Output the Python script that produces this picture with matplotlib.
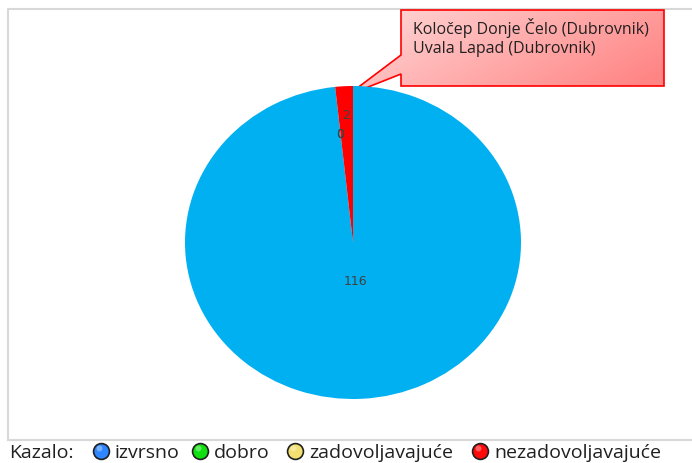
import numpy as np
import matplotlib
matplotlib.use("Agg")
import matplotlib.pyplot as plt
from matplotlib.patches import Polygon

# 数据
categories = ["izvrsno", "dobro", "zadovoljavajuće", "nezadovoljavajuće"]
counts = [116, 0, 0, 2]
slice_colors = ["#00b0f0", "#00e000", "#ffe060", "#ff0000"]
legend_colors = ["#2f86ff", "#10e010", "#f2e070", "#ff0a0a"]
callout_lines = ["Koločep Donje Čelo (Dubrovnik)", "Uvala Lapad (Dubrovnik)"]
legend_title = "Kazalo:"

W, H = 692, 464
fig = plt.figure(figsize=(W / 100, H / 100), dpi=100)

# 底层：像素坐标的覆盖层
bg = fig.add_axes([0, 0, 1, 1])
bg.axis("off")

# 图框
bg.plot([8, 8, 692], [441, 10, 10], color="#d8d8d8", lw=1.5)
bg.plot([8, 692], [441, 441], color="#d8d8d8", lw=1.5)

# 饼图（略椭圆）
px0, px1, py0, py1 = 185, 521, 87, 400
ax = fig.add_axes([px0 / W, 1 - py1 / H, (px1 - px0) / W, (py1 - py0) / H])
wedges, _ = ax.pie(counts, colors=slice_colors, startangle=90, counterclock=False,
                   radius=1.0, wedgeprops=dict(linewidth=0))
ax.set_aspect("auto")
ax.set_xlim(-1, 1)
ax.set_ylim(-1, 1)
ax.axis("off")

label_r = [0.24, 0.70, 0.70, 0.82]
for w, v, r in zip(wedges, counts, label_r):
    ang = np.deg2rad((w.theta1 + w.theta2) / 2)
    ax.text(r * np.cos(ang), r * np.sin(ang), str(v), ha="center", va="center",
            fontsize=9, color="#404040")

# 标注框（渐变 + 指针）
shape = [(401, 11), (664, 11), (664, 87), (401, 87), (401, 75), (348, 96), (401, 56)]
poly = Polygon(shape, closed=True, facecolor="none", edgecolor="#ff0000", lw=1.2, zorder=5)
yy, xx = np.mgrid[0:1:60j, 0:1:200j]
t = np.clip(0.75 * xx + 0.35 * yy, 0, 1)
c0 = np.array([1.0, 0.86, 0.86])
c1 = np.array([1.0, 0.52, 0.52])
grad = c0[None, None, :] * (1 - t[..., None]) + c1[None, None, :] * t[..., None]
im = bg.imshow(grad, extent=[345, 665, 98, 10], aspect="auto", zorder=4)
clip = Polygon(shape, closed=True, transform=bg.transData)
im.set_clip_path(clip)
bg.add_patch(poly)
bg.set_xlim(0, W)
bg.set_ylim(H, 0)
for i, line in enumerate(callout_lines):
    bg.text(413, 28 + i * 21, line, fontsize=11.5, family="Open Sans", color="#202020",
            va="center", ha="left", zorder=6)

# 图例
ly = 453
bg.text(9, ly, legend_title, fontsize=14, family="Open Sans", va="center", ha="left",
        color="#202020")
marker_x = [101, 200, 295, 480]
for x, name, col in zip(marker_x, categories, legend_colors):
    bg.scatter([x], [ly - 1], s=130, color=col, edgecolors="#202020", linewidths=1.2, zorder=5)
    bg.scatter([x - 2], [ly - 4], s=18, color="white", alpha=0.35, linewidths=0, zorder=6)
    bg.text(x + 14, ly, name, fontsize=14, family="Open Sans", va="center", ha="left",
            color="#202020")

fig.savefig("out.png", dpi=100, facecolor="white")
